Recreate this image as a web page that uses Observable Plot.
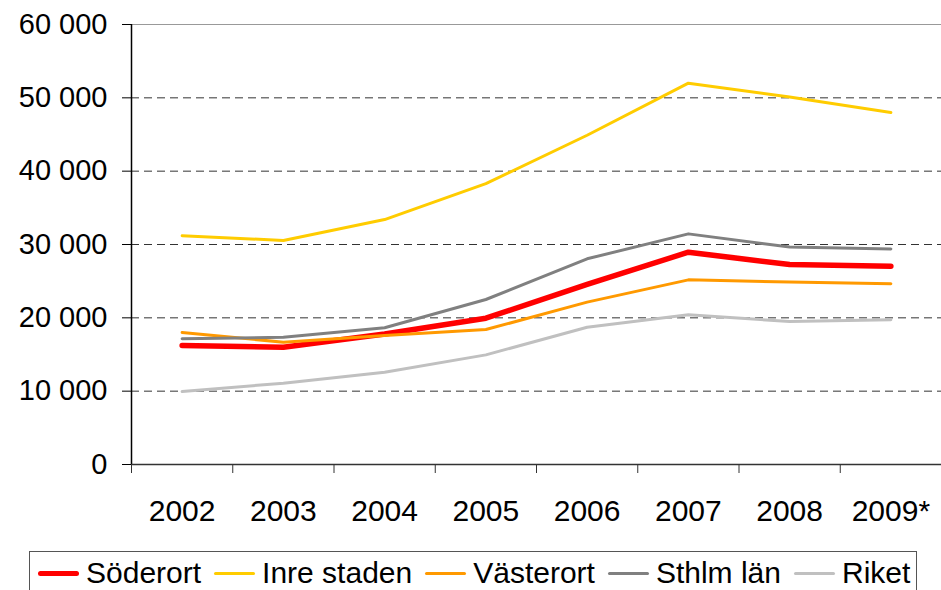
<!DOCTYPE html>
<html>
<head>
<meta charset="utf-8">
<script src="https://cdn.jsdelivr.net/npm/d3@7"></script>
<script src="https://cdn.jsdelivr.net/npm/@observablehq/plot@0.6"></script>
<style>
  html, body { margin: 0; padding: 0; background: #fff; overflow: hidden; }
  #chart { width: 941px; height: 590px; position: relative; font-family: "Liberation Sans", Arial, sans-serif; }
  #legend {
    position: absolute; left: 29px; top: 551px; width: 888px; height: 60px;
    border: 1px solid #555; box-sizing: border-box;
    display: flex; align-items: flex-start; padding: 4px 0 0 8px;
    font-size: 30px; color: #000; white-space: nowrap;
  }
  .item { display: flex; align-items: center; margin-right: 13px; }
  .sw { width: 41px; display: inline-block; margin-right: 7px; border-radius: 3px; }
</style>
</head>
<body>
<div id="chart"></div>
<script>
const years = ["2002", "2003", "2004", "2005", "2006", "2007", "2008", "2009*"];
const seriesNames = ["Söderort", "Inre staden", "Västerort", "Sthlm län", "Riket"];
const soderort   = [16230, 16000, 17800, 19950, 24550, 28950, 27270, 27050];
const inreStaden = [31200, 30550, 33400, 38300, 44900, 52000, 50100, 48000];
const vasterort  = [18000, 16680, 17600, 18400, 22140, 25180, 24870, 24640];
const sthlmLan   = [17150, 17350, 18650, 22500, 28050, 31450, 29650, 29400];
const riket      = [9950, 11090, 12590, 14950, 18720, 20410, 19500, 19730];
const yTicks = [0, 10000, 20000, 30000, 40000, 50000, 60000];

const seriesValues = [soderort, inreStaden, vasterort, sthlmLan, riket];
const colors = ["#FF0000", "#FFCC00", "#FF9900", "#808080", "#C0C0C0"];
const widths = [5.5, 3, 3, 3, 3];

const toRows = (vals) => vals.map((v, i) => ({i, value: v}));
const fmt = d => d3.format(",")(d).replace(/,/g, " ");

const boundaries = d3.range(years.length + 1).map(k => k - 0.5);
const centers = d3.range(years.length);

const plot = Plot.plot({
  width: 941,
  height: 551,
  marginTop: 24,
  marginBottom: 87,
  marginLeft: 131,
  marginRight: 0,
  style: {fontFamily: "'Liberation Sans', Arial, sans-serif", fontSize: "29px", color: "#000", background: "transparent"},
  x: {domain: [-0.5, years.length - 0.5], axis: null},
  y: {domain: [0, 60000], axis: null},
  marks: [
    Plot.ruleY(yTicks.filter(t => t > 0 && t < 60000), {stroke: "#333", strokeWidth: 1, strokeDasharray: "8,5"}),
    Plot.ruleY([60000], {stroke: "#999", strokeWidth: 1.2}),
    ...seriesValues.map((vals, k) =>
      Plot.line(toRows(vals), {x: "i", y: "value", stroke: colors[k], strokeWidth: widths[k], strokeLinejoin: "round", strokeLinecap: "round"})
    ),
    Plot.ruleY([0], {stroke: "#333", strokeWidth: 1.5}),
    Plot.ruleX([-0.5], {stroke: "#000", strokeWidth: 1.5}),
    Plot.axisY({ticks: yTicks, tickFormat: fmt, tickSize: 9, tickPadding: 15, label: null, stroke: "#000"}),
    Plot.axisX({ticks: boundaries, tickFormat: () => "", tickSize: 9, label: null, stroke: "#333"}),
    Plot.axisX({ticks: centers, tickFormat: i => years[i], tickSize: 0, tickPadding: 35, label: null, fontSize: 30})
  ]
});

const chart = document.getElementById("chart");
chart.appendChild(plot);

const legend = document.createElement("div");
legend.id = "legend";
seriesNames.forEach((name, k) => {
  const item = document.createElement("div");
  item.className = "item";
  const sw = document.createElement("span");
  sw.className = "sw";
  sw.style.height = (k === 0 ? 5 : 3) + "px";
  sw.style.background = colors[k];
  const tx = document.createElement("span");
  tx.textContent = name;
  item.appendChild(sw);
  item.appendChild(tx);
  legend.appendChild(item);
});
chart.appendChild(legend);
</script>
</body>
</html>
